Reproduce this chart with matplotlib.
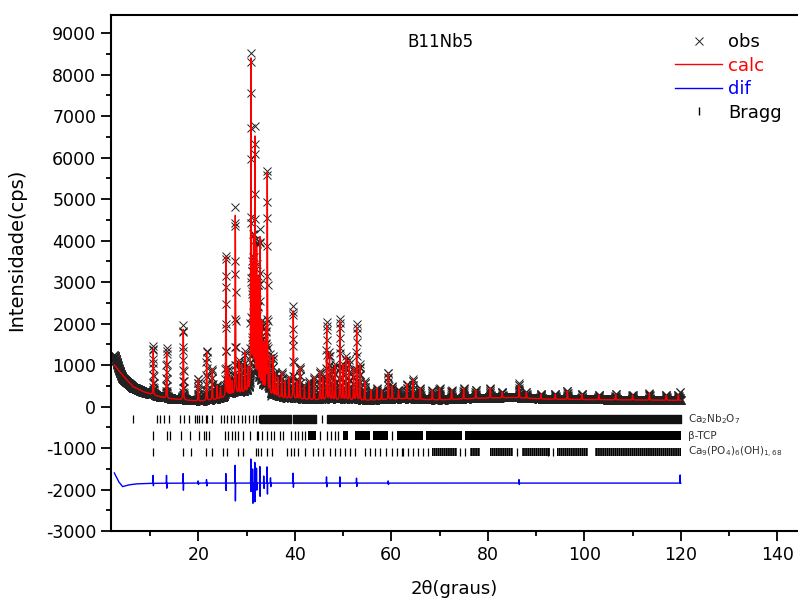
import numpy as np
import matplotlib.pyplot as plt
from matplotlib.lines import Line2D
from matplotlib.ticker import MultipleLocator

plt.rcParams['font.family'] = ['DejaVu Sans']
plt.rcParams['axes.unicode_minus'] = False
plt.rcParams['hatch.linewidth'] = 1.3

# background
bg_tth = [2.6, 3.0, 3.8, 5.2, 6.5, 8.6, 10.7, 13.4, 16.9, 20.4, 23.8, 27.2, 30.7,
          33.0, 35.5, 37.6, 44.5, 55.0, 62.0, 70.0, 78.0, 85.0, 92.0, 100.0, 110.0, 120.0]
bg_int = [1000, 950, 830, 640, 480, 360, 280, 200, 160, 130, 170, 280, 360,
          400, 260, 200, 160, 150, 190, 160, 200, 220, 180, 170, 160, 150]

# calculated peak tops (2theta, counts)
peak_tth = [10.67, 13.45, 16.89, 20.0, 21.74, 22.9, 23.9, 24.6, 25.74, 26.2, 26.6, 27.0,
            27.67, 28.4, 29.0, 29.7, 30.3, 30.92, 31.2, 31.45, 31.75, 32.1, 32.4, 32.79,
            33.2, 33.6, 34.0, 34.3, 34.8, 35.48, 36.0, 36.5, 37.28, 38.0, 38.8, 39.69,
            40.5, 41.08, 42.0, 43.0, 44.0, 45.22, 45.8, 46.61, 47.2, 47.8, 48.4, 49.37,
            50.0, 50.6, 51.3, 52.2, 52.83, 53.5, 54.5, 55.8, 57.0, 58.0, 59.38, 60.2,
            61.5, 63.2, 64.5, 66.0, 68.5, 70.0, 72.5, 75.0, 77.5, 80.5, 83.0, 86.5,
            88.0, 91.0, 94.0, 96.5, 99.5, 103.0, 106.5, 110.0, 113.5, 117.0, 119.5]
peak_top = [1400, 1350, 1900, 650, 1320, 900, 500, 450, 3600, 900, 700, 600,
            4700, 1100, 1000, 1300, 900, 8300, 3200, 4000, 6500, 3700, 3000, 4100,
            2000, 1500, 1800, 5600, 1200, 1200, 800, 700, 820, 600, 700, 2350,
            600, 950, 500, 600, 700, 850, 700, 2000, 1300, 900, 1000, 2080,
            1000, 1200, 1100, 900, 1950, 1000, 600, 400, 450, 400, 800, 500,
            400, 550, 650, 450, 400, 450, 400, 450, 400, 450, 350, 500,
            350, 300, 300, 380, 300, 280, 300, 280, 320, 280, 280]

# difference curve: slow part and spikes (relative to its own baseline)
res_tth = [2.6, 3.5, 4.3, 5.5, 7.0, 10.0, 20.0, 120.0]
res_val = [250, 40, -80, -40, -15, 0, 5, 5]
dif_tth = [10.67, 13.45, 16.89, 20.0, 21.74, 25.74, 27.67, 30.92, 31.3, 31.75, 32.1,
           32.79, 33.6, 34.3, 35.0, 39.69, 46.61, 49.37, 52.83, 59.38, 86.5, 119.9]
dif_up = [190, 190, 230, 60, 100, 270, 430, 680, 400, 500, 420,
          400, 200, 460, 150, 240, 150, 150, 120, 60, 100, 230]
dif_down = [60, 120, 170, 40, 80, 210, 430, 240, 570, 450, 200,
            320, 150, 310, 100, 100, 90, 90, 80, 40, 40, 0]
dif_offset = -1850

# Bragg positions: single ticks and dense bands
cnb_ticks = [6.53, 11.37, 12.06, 12.96, 14.0, 16.2, 17.04, 18.14, 19.3, 19.8, 20.2, 20.7,
             21.6, 21.8, 22.8, 24.7, 25.3, 26.0, 26.7, 27.4, 28.3, 29.0, 29.7, 30.6,
             31.3, 31.96, 32.5, 45.6]
cnb_bands = [(32.9, 39.3), (39.6, 44.5), (46.6, 120.0)]
tcp_ticks = [10.68, 13.44, 14.13, 16.4, 18.3, 20.2, 21.25, 21.7, 22.2, 25.5, 26.2, 26.9,
             27.6, 28.3, 29.3, 30.7, 32.1, 32.4, 33.3, 34.2, 35.1, 35.8, 36.9, 37.6,
             39.2, 40.0, 40.6, 41.4, 42.1, 45.2, 46.6, 47.6, 48.3, 49.0, 60.1]
tcp_bands = [(42.8, 44.5), (50.0, 51.1), (52.5, 55.6), (56.3, 59.4), (61.1, 66.6),
             (67.3, 74.6), (75.3, 120.0)]
ha_ticks = [10.68, 16.8, 18.6, 21.7, 22.8, 25.2, 26.0, 28.3, 29.2, 31.9, 32.4, 33.1,
            34.2, 35.2, 38.3, 39.2, 39.9, 40.7, 42.1, 43.8, 44.9, 45.9, 47.3, 48.3,
            49.4, 50.4, 51.4, 52.5, 54.5, 55.6, 56.6, 57.7, 59.0, 60.1, 61.1, 62.2,
            62.5, 63.5, 64.6, 65.6, 66.6, 67.7, 74.2, 75.3, 86.0, 92.5, 93.6]
ha_bands = [(68.4, 73.6), (76.3, 78.4), (80.4, 85.3), (87.0, 92.9), (94.3, 100.8),
            (102.2, 120.0)]
phase_names = [r'Ca$_2$Nb$_2$O$_7$', 'β-TCP', r'Ca$_9$(PO$_4$)$_6$(OH)$_{1,68}$']
phase_y = [-300, -700, -1100]

# build profiles
step = 0.02
tth = np.arange(2.6, 120.0 + step / 2, step)
calc = np.interp(tth, bg_tth, bg_int)
fwhm, eta = 0.12, 0.45
for p, top in zip(peak_tth, peak_top):
    amp = top - np.interp(p, bg_tth, bg_int)
    dx = (tth - p) / (fwhm / 2)
    calc += amp * (eta / (1 + dx ** 2) + (1 - eta) * np.exp(-np.log(2) * dx ** 2))
resid = np.interp(tth, res_tth, res_val)
for p, u, d in zip(dif_tth, dif_up, dif_down):
    resid += u * np.exp(-((tth - (p - 0.03)) / 0.025) ** 2)
    resid -= d * np.exp(-((tth - (p + 0.03)) / 0.025) ** 2)
obs = calc + resid
dif = resid + dif_offset

fig = plt.figure(figsize=(7.98, 6.05), dpi=100)
ax = fig.add_axes([0.139, 0.1223, 0.861, 0.8529])

ax.plot(tth, obs, 'x', color='#222222', ms=6, mew=0.7, zorder=2)
ax.plot(tth, calc, '-', color='#ff0000', lw=1.0, zorder=3)
ax.plot(tth, dif, '-', color='#0000ff', lw=1.0, zorder=3)

band_style = [dict(color='#111111'),
              dict(facecolor='none', edgecolor='k', hatch='|' * 11, lw=0),
              dict(facecolor='none', edgecolor='k', hatch='|' * 8, lw=0)]
for y, ticks, bands, st in zip(phase_y, [cnb_ticks, tcp_ticks, ha_ticks],
                               [cnb_bands, tcp_bands, ha_bands], band_style):
    ax.vlines(ticks, y - 100, y + 100, color='k', lw=0.9)
    ax.broken_barh([(a, b - a) for a, b in bands], (y - 100, 200), **st)
for y, name in zip(phase_y, phase_names):
    ax.text(121.5, y, name, fontsize=7.5, color='#333333', va='center', ha='left')

ax.text(0.479, 0.948, 'B11Nb5', transform=ax.transAxes, fontsize=12,
        ha='center', va='center')

ax.set_xlim(1.9, 144.3)
ax.set_ylim(-3000, 9440)
ax.set_xticks([20, 40, 60, 80, 100, 120, 140])
ax.xaxis.set_minor_locator(MultipleLocator(10))
ax.yaxis.set_major_locator(MultipleLocator(1000))
ax.yaxis.set_minor_locator(MultipleLocator(500))
ax.tick_params(which='both', direction='out', top=False, right=False, labelsize=12.5)
ax.tick_params(which='major', length=7, width=1.3)
ax.tick_params(which='minor', length=3.5, width=1.3)
for s in ['left', 'bottom', 'top']:
    ax.spines[s].set_linewidth(1.5)
ax.spines['right'].set_visible(False)
ax.set_xlabel('2θ(graus)', fontsize=13, labelpad=12)
ax.set_ylabel('Intensidade(cps)', fontsize=14)
ax.yaxis.set_label_coords(-0.124, 0.545)

handles = [Line2D([], [], ls='none', marker='x', color='#222222', ms=6, mew=0.7),
           Line2D([], [], color='#ff0000', lw=1.0),
           Line2D([], [], color='#0000ff', lw=1.0),
           Line2D([], [], ls='none', marker='|', color='k', ms=6)]
leg = fig.legend(handles, ['obs', 'calc', 'dif', 'Bragg'], loc='upper left',
                 bbox_to_anchor=(0.846, 0.945), frameon=False, fontsize=13,
                 handlelength=2.6, handletextpad=0.35, labelspacing=0.3,
                 borderpad=0, borderaxespad=0)
for txt, c in zip(leg.get_texts(), ['k', '#ff0000', '#0000ff', 'k']):
    txt.set_color(c)

fig.savefig('out.png', dpi=100)
